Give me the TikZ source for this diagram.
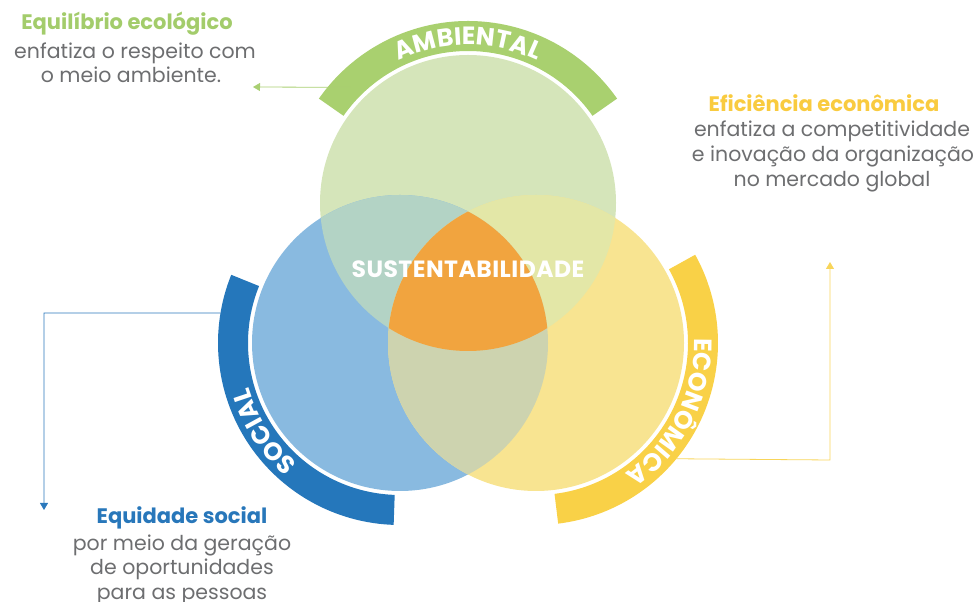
\documentclass[tikz,border=0pt]{standalone}
\usepackage{fontspec}
\setmainfont{Poppins}
\usetikzlibrary{decorations.text,arrows.meta,calc}
\definecolor{cA}{HTML}{D5E5BA}
\definecolor{cS}{HTML}{89BAE0}
\definecolor{cE}{HTML}{F8E491}
\definecolor{cAS}{HTML}{B3D3C5}
\definecolor{cAE}{HTML}{E3E7A7}
\definecolor{cSE}{HTML}{CDD3AF}
\definecolor{cASE}{HTML}{F1A43F}
\definecolor{bandA}{HTML}{A9D06F}
\definecolor{bandS}{HTML}{2577BB}
\definecolor{bandE}{HTML}{F9D147}
\definecolor{txtgray}{HTML}{6D6E70}
\definecolor{ttlA}{HTML}{A3CC6B}
\definecolor{ttlS}{HTML}{2877BA}
\definecolor{ttlE}{HTML}{F9CB3F}
\definecolor{arrA}{HTML}{A9CF72}
\definecolor{arrS}{HTML}{2A78BC}
\definecolor{arrE}{HTML}{F8D55A}
\newcommand{\bandfont}{\bfseries\fontsize{25pt}{25pt}\selectfont}
\begin{document}
\begin{tikzpicture}[x=1pt,y=1pt,
  ttl/.style={anchor=base,inner sep=0pt,font=\bfseries\fontsize{21pt}{21pt}\selectfont},
  body/.style={anchor=base,inner sep=0pt,text=txtgray,font=\fontsize{20.5pt}{20.5pt}\selectfont},
  conn/.style={line width=0.8pt,-{Triangle[width=8pt,length=7pt]}},
  bandtext/.style={decorate,decoration={text along path,text align=center,text color=white,text={|\bandfont|#1}}}]
\useasboundingbox (0,0) rectangle (975,602);
\coordinate (A) at (468,399);
\coordinate (S) at (400,259);
\coordinate (E) at (536,259);
% circles
\fill[cA] (A) circle (148pt);
\fill[cS] (S) circle (148pt);
\fill[cE] (E) circle (148pt);
\begin{scope}
  \clip (A) circle (148pt);
  \fill[cAS] (S) circle (148pt);
  \fill[cAE] (E) circle (148pt);
\end{scope}
\begin{scope}
  \clip (S) circle (148pt);
  \fill[cSE] (E) circle (148pt);
  \clip (A) circle (148pt);
  \fill[cASE] (E) circle (148pt);
\end{scope}
% bands
\fill[bandA] ([shift={(145:182pt)}]A) arc[start angle=145,end angle=35,radius=182pt]
  -- ([shift={(35:152pt)}]A) arc[start angle=35,end angle=145,radius=152pt] -- cycle;
\fill[bandS] ([shift={(158:182pt)}]S) arc[start angle=158,end angle=268,radius=182pt]
  -- ([shift={(268:152pt)}]S) arc[start angle=268,end angle=158,radius=152pt] -- cycle;
\fill[bandE] ([shift={(29:182pt)}]E) arc[start angle=29,end angle=-83,radius=182pt]
  -- ([shift={(-83:152pt)}]E) arc[start angle=-83,end angle=29,radius=152pt] -- cycle;
% band labels
\path[bandtext=AMBIENTAL] ([shift={(145:158pt)}]A) arc[start angle=145,end angle=35,radius=158pt];
\path[bandtext=SOCIAL] ([shift={(268:158pt)}]S) arc[start angle=268,end angle=158,radius=158pt];
\path[bandtext=ECONÔMICA] ([shift={(29:158pt)}]E) arc[start angle=29,end angle=-83,radius=158pt];
% centre label
\node[anchor=base,inner sep=0pt,text=white,font=\bfseries\fontsize{23.5pt}{23.5pt}\selectfont\addfontfeature{LetterSpace=2}] (sust) at (468,324) {SUSTENTABILIDADE};
% connectors
\coordinate (aS) at ([shift={(135.5:165pt)}]A);
\coordinate (aT) at (253,515);
\draw[conn,arrA] (aS) -- (aT);
\coordinate (sS) at ([shift={(170.5:182pt)}]S);
\coordinate (sK) at (44,289);
\coordinate (sT) at (44,92);
\draw[conn,arrS] (sS) -- (sK) -- (sT);
\coordinate (eS) at ([shift={(-39.5:182pt)}]E);
\coordinate (eK) at (830,142);
\coordinate (eT) at (830,340);
\draw[conn,arrE] (eS) -- (eK) -- (eT);
% text blocks
\node[ttl,text=ttlA] (a1) at (127,572) {Equilíbrio ecológico};
\node[body] (a2) at (135,543) {enfatiza o respeito com};
\node[body] (a3) at (131,519) {o meio ambiente.};
\node[ttl,text=ttlE] (e1) at (824,490) {Eficiência econômica};
\node[body] (e2) at (832,465) {enfatiza a competitividade};
\node[body] (e3) at (833,440) {e inovação da organização};
\node[body] (e4) at (832,415) {no mercado global};
\node[ttl,text=ttlS] (s1) at (182,78) {Equidade social};
\node[body] (s2) at (182,51) {por meio da geração};
\node[body] (s3) at (182,27) {de oportunidades};
\node[body] (s4) at (182,2) {para as pessoas};
\end{tikzpicture}
\end{document}
